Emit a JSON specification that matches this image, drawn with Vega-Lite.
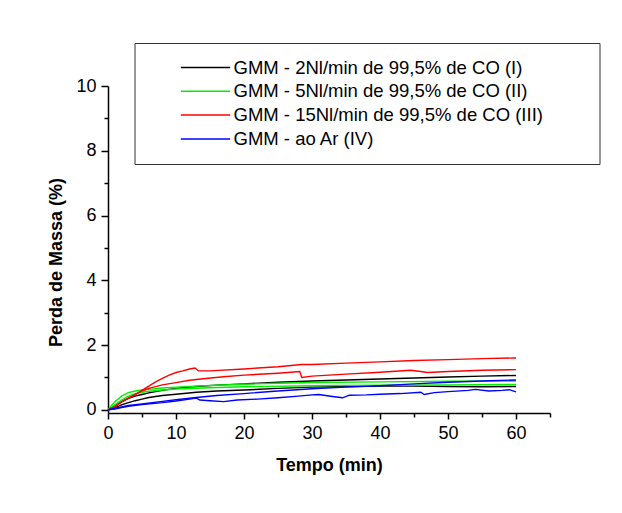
{
  "$schema": "https://vega.github.io/schema/vega-lite/v6.json",
  "width": 442,
  "height": 327,
  "autosize": "none",
  "padding": {"left": 108, "top": 86, "right": 72, "bottom": 100},
  "background": "white",
  "config": {
    "font": "Liberation Sans",
    "view": {"stroke": null}
  },
  "datasets": {
    "curvas": [
      {"serie": "GMM - 2Nl/min de 99,5% de CO  (I)", "run": 1, "t": 0, "v": 0},
      {"serie": "GMM - 2Nl/min de 99,5% de CO  (I)", "run": 1, "t": 1, "v": 0.1},
      {"serie": "GMM - 2Nl/min de 99,5% de CO  (I)", "run": 1, "t": 2, "v": 0.25},
      {"serie": "GMM - 2Nl/min de 99,5% de CO  (I)", "run": 1, "t": 3, "v": 0.35},
      {"serie": "GMM - 2Nl/min de 99,5% de CO  (I)", "run": 1, "t": 4, "v": 0.42},
      {"serie": "GMM - 2Nl/min de 99,5% de CO  (I)", "run": 1, "t": 5, "v": 0.47},
      {"serie": "GMM - 2Nl/min de 99,5% de CO  (I)", "run": 1, "t": 6, "v": 0.52},
      {"serie": "GMM - 2Nl/min de 99,5% de CO  (I)", "run": 1, "t": 8, "v": 0.6},
      {"serie": "GMM - 2Nl/min de 99,5% de CO  (I)", "run": 1, "t": 10, "v": 0.66},
      {"serie": "GMM - 2Nl/min de 99,5% de CO  (I)", "run": 1, "t": 13, "v": 0.72},
      {"serie": "GMM - 2Nl/min de 99,5% de CO  (I)", "run": 1, "t": 16, "v": 0.76},
      {"serie": "GMM - 2Nl/min de 99,5% de CO  (I)", "run": 1, "t": 20, "v": 0.8},
      {"serie": "GMM - 2Nl/min de 99,5% de CO  (I)", "run": 1, "t": 25, "v": 0.85},
      {"serie": "GMM - 2Nl/min de 99,5% de CO  (I)", "run": 1, "t": 30, "v": 0.89},
      {"serie": "GMM - 2Nl/min de 99,5% de CO  (I)", "run": 1, "t": 35, "v": 0.92},
      {"serie": "GMM - 2Nl/min de 99,5% de CO  (I)", "run": 1, "t": 40, "v": 0.95},
      {"serie": "GMM - 2Nl/min de 99,5% de CO  (I)", "run": 1, "t": 45, "v": 0.98},
      {"serie": "GMM - 2Nl/min de 99,5% de CO  (I)", "run": 1, "t": 50, "v": 1.01},
      {"serie": "GMM - 2Nl/min de 99,5% de CO  (I)", "run": 1, "t": 55, "v": 1.04},
      {"serie": "GMM - 2Nl/min de 99,5% de CO  (I)", "run": 1, "t": 60, "v": 1.06},
      {"serie": "GMM - 2Nl/min de 99,5% de CO  (I)", "run": 2, "t": 0, "v": 0},
      {"serie": "GMM - 2Nl/min de 99,5% de CO  (I)", "run": 2, "t": 1, "v": 0.06},
      {"serie": "GMM - 2Nl/min de 99,5% de CO  (I)", "run": 2, "t": 2, "v": 0.15},
      {"serie": "GMM - 2Nl/min de 99,5% de CO  (I)", "run": 2, "t": 3, "v": 0.22},
      {"serie": "GMM - 2Nl/min de 99,5% de CO  (I)", "run": 2, "t": 4, "v": 0.28},
      {"serie": "GMM - 2Nl/min de 99,5% de CO  (I)", "run": 2, "t": 5, "v": 0.33},
      {"serie": "GMM - 2Nl/min de 99,5% de CO  (I)", "run": 2, "t": 6, "v": 0.38},
      {"serie": "GMM - 2Nl/min de 99,5% de CO  (I)", "run": 2, "t": 8, "v": 0.44},
      {"serie": "GMM - 2Nl/min de 99,5% de CO  (I)", "run": 2, "t": 10, "v": 0.48},
      {"serie": "GMM - 2Nl/min de 99,5% de CO  (I)", "run": 2, "t": 13, "v": 0.54},
      {"serie": "GMM - 2Nl/min de 99,5% de CO  (I)", "run": 2, "t": 16, "v": 0.58},
      {"serie": "GMM - 2Nl/min de 99,5% de CO  (I)", "run": 2, "t": 20, "v": 0.61},
      {"serie": "GMM - 2Nl/min de 99,5% de CO  (I)", "run": 2, "t": 25, "v": 0.66},
      {"serie": "GMM - 2Nl/min de 99,5% de CO  (I)", "run": 2, "t": 30, "v": 0.7},
      {"serie": "GMM - 2Nl/min de 99,5% de CO  (I)", "run": 2, "t": 35, "v": 0.72},
      {"serie": "GMM - 2Nl/min de 99,5% de CO  (I)", "run": 2, "t": 40, "v": 0.73},
      {"serie": "GMM - 2Nl/min de 99,5% de CO  (I)", "run": 2, "t": 45, "v": 0.73},
      {"serie": "GMM - 2Nl/min de 99,5% de CO  (I)", "run": 2, "t": 50, "v": 0.72},
      {"serie": "GMM - 2Nl/min de 99,5% de CO  (I)", "run": 2, "t": 55, "v": 0.71},
      {"serie": "GMM - 2Nl/min de 99,5% de CO  (I)", "run": 2, "t": 60, "v": 0.72},
      {"serie": "GMM - 5Nl/min de 99,5% de CO  (II)", "run": 1, "t": 0, "v": 0},
      {"serie": "GMM - 5Nl/min de 99,5% de CO  (II)", "run": 1, "t": 1, "v": 0.25},
      {"serie": "GMM - 5Nl/min de 99,5% de CO  (II)", "run": 1, "t": 2, "v": 0.42},
      {"serie": "GMM - 5Nl/min de 99,5% de CO  (II)", "run": 1, "t": 3, "v": 0.53},
      {"serie": "GMM - 5Nl/min de 99,5% de CO  (II)", "run": 1, "t": 4, "v": 0.58},
      {"serie": "GMM - 5Nl/min de 99,5% de CO  (II)", "run": 1, "t": 5, "v": 0.61},
      {"serie": "GMM - 5Nl/min de 99,5% de CO  (II)", "run": 1, "t": 6, "v": 0.63},
      {"serie": "GMM - 5Nl/min de 99,5% de CO  (II)", "run": 1, "t": 8, "v": 0.67},
      {"serie": "GMM - 5Nl/min de 99,5% de CO  (II)", "run": 1, "t": 10, "v": 0.7},
      {"serie": "GMM - 5Nl/min de 99,5% de CO  (II)", "run": 1, "t": 15, "v": 0.75},
      {"serie": "GMM - 5Nl/min de 99,5% de CO  (II)", "run": 1, "t": 20, "v": 0.79},
      {"serie": "GMM - 5Nl/min de 99,5% de CO  (II)", "run": 1, "t": 25, "v": 0.82},
      {"serie": "GMM - 5Nl/min de 99,5% de CO  (II)", "run": 1, "t": 30, "v": 0.84},
      {"serie": "GMM - 5Nl/min de 99,5% de CO  (II)", "run": 1, "t": 40, "v": 0.86},
      {"serie": "GMM - 5Nl/min de 99,5% de CO  (II)", "run": 1, "t": 50, "v": 0.88},
      {"serie": "GMM - 5Nl/min de 99,5% de CO  (II)", "run": 1, "t": 60, "v": 0.89},
      {"serie": "GMM - 5Nl/min de 99,5% de CO  (II)", "run": 2, "t": 0, "v": 0},
      {"serie": "GMM - 5Nl/min de 99,5% de CO  (II)", "run": 2, "t": 1, "v": 0.15},
      {"serie": "GMM - 5Nl/min de 99,5% de CO  (II)", "run": 2, "t": 2, "v": 0.3},
      {"serie": "GMM - 5Nl/min de 99,5% de CO  (II)", "run": 2, "t": 3, "v": 0.42},
      {"serie": "GMM - 5Nl/min de 99,5% de CO  (II)", "run": 2, "t": 4, "v": 0.5},
      {"serie": "GMM - 5Nl/min de 99,5% de CO  (II)", "run": 2, "t": 5, "v": 0.54},
      {"serie": "GMM - 5Nl/min de 99,5% de CO  (II)", "run": 2, "t": 6, "v": 0.57},
      {"serie": "GMM - 5Nl/min de 99,5% de CO  (II)", "run": 2, "t": 8, "v": 0.61},
      {"serie": "GMM - 5Nl/min de 99,5% de CO  (II)", "run": 2, "t": 10, "v": 0.64},
      {"serie": "GMM - 5Nl/min de 99,5% de CO  (II)", "run": 2, "t": 15, "v": 0.68},
      {"serie": "GMM - 5Nl/min de 99,5% de CO  (II)", "run": 2, "t": 20, "v": 0.71},
      {"serie": "GMM - 5Nl/min de 99,5% de CO  (II)", "run": 2, "t": 30, "v": 0.74},
      {"serie": "GMM - 5Nl/min de 99,5% de CO  (II)", "run": 2, "t": 40, "v": 0.76},
      {"serie": "GMM - 5Nl/min de 99,5% de CO  (II)", "run": 2, "t": 50, "v": 0.77},
      {"serie": "GMM - 5Nl/min de 99,5% de CO  (II)", "run": 2, "t": 60, "v": 0.78},
      {"serie": "GMM - 15Nl/min de 99,5% de CO (III)", "run": 1, "t": 0, "v": 0},
      {"serie": "GMM - 15Nl/min de 99,5% de CO (III)", "run": 1, "t": 1, "v": 0.1},
      {"serie": "GMM - 15Nl/min de 99,5% de CO (III)", "run": 1, "t": 2, "v": 0.24},
      {"serie": "GMM - 15Nl/min de 99,5% de CO (III)", "run": 1, "t": 3, "v": 0.36},
      {"serie": "GMM - 15Nl/min de 99,5% de CO (III)", "run": 1, "t": 4, "v": 0.47},
      {"serie": "GMM - 15Nl/min de 99,5% de CO (III)", "run": 1, "t": 5, "v": 0.6},
      {"serie": "GMM - 15Nl/min de 99,5% de CO (III)", "run": 1, "t": 6, "v": 0.73},
      {"serie": "GMM - 15Nl/min de 99,5% de CO (III)", "run": 1, "t": 7, "v": 0.86},
      {"serie": "GMM - 15Nl/min de 99,5% de CO (III)", "run": 1, "t": 8, "v": 0.97},
      {"serie": "GMM - 15Nl/min de 99,5% de CO (III)", "run": 1, "t": 9, "v": 1.07},
      {"serie": "GMM - 15Nl/min de 99,5% de CO (III)", "run": 1, "t": 10, "v": 1.15},
      {"serie": "GMM - 15Nl/min de 99,5% de CO (III)", "run": 1, "t": 11, "v": 1.2},
      {"serie": "GMM - 15Nl/min de 99,5% de CO (III)", "run": 1, "t": 12, "v": 1.26},
      {"serie": "GMM - 15Nl/min de 99,5% de CO (III)", "run": 1, "t": 12.8, "v": 1.29},
      {"serie": "GMM - 15Nl/min de 99,5% de CO (III)", "run": 1, "t": 13.3, "v": 1.2},
      {"serie": "GMM - 15Nl/min de 99,5% de CO (III)", "run": 1, "t": 15, "v": 1.2},
      {"serie": "GMM - 15Nl/min de 99,5% de CO (III)", "run": 1, "t": 20, "v": 1.26},
      {"serie": "GMM - 15Nl/min de 99,5% de CO (III)", "run": 1, "t": 25, "v": 1.33},
      {"serie": "GMM - 15Nl/min de 99,5% de CO (III)", "run": 1, "t": 28.5, "v": 1.4},
      {"serie": "GMM - 15Nl/min de 99,5% de CO (III)", "run": 1, "t": 30, "v": 1.4},
      {"serie": "GMM - 15Nl/min de 99,5% de CO (III)", "run": 1, "t": 35, "v": 1.44},
      {"serie": "GMM - 15Nl/min de 99,5% de CO (III)", "run": 1, "t": 40, "v": 1.48},
      {"serie": "GMM - 15Nl/min de 99,5% de CO (III)", "run": 1, "t": 45, "v": 1.52},
      {"serie": "GMM - 15Nl/min de 99,5% de CO (III)", "run": 1, "t": 50, "v": 1.55},
      {"serie": "GMM - 15Nl/min de 99,5% de CO (III)", "run": 1, "t": 55, "v": 1.58},
      {"serie": "GMM - 15Nl/min de 99,5% de CO (III)", "run": 1, "t": 60, "v": 1.6},
      {"serie": "GMM - 15Nl/min de 99,5% de CO (III)", "run": 2, "t": 0, "v": 0},
      {"serie": "GMM - 15Nl/min de 99,5% de CO (III)", "run": 2, "t": 1, "v": 0.1},
      {"serie": "GMM - 15Nl/min de 99,5% de CO (III)", "run": 2, "t": 2, "v": 0.24},
      {"serie": "GMM - 15Nl/min de 99,5% de CO (III)", "run": 2, "t": 3, "v": 0.36},
      {"serie": "GMM - 15Nl/min de 99,5% de CO (III)", "run": 2, "t": 4, "v": 0.47},
      {"serie": "GMM - 15Nl/min de 99,5% de CO (III)", "run": 2, "t": 5, "v": 0.58},
      {"serie": "GMM - 15Nl/min de 99,5% de CO (III)", "run": 2, "t": 6, "v": 0.66},
      {"serie": "GMM - 15Nl/min de 99,5% de CO (III)", "run": 2, "t": 8, "v": 0.77},
      {"serie": "GMM - 15Nl/min de 99,5% de CO (III)", "run": 2, "t": 10, "v": 0.84},
      {"serie": "GMM - 15Nl/min de 99,5% de CO (III)", "run": 2, "t": 12, "v": 0.91},
      {"serie": "GMM - 15Nl/min de 99,5% de CO (III)", "run": 2, "t": 14, "v": 0.96},
      {"serie": "GMM - 15Nl/min de 99,5% de CO (III)", "run": 2, "t": 17, "v": 1.02},
      {"serie": "GMM - 15Nl/min de 99,5% de CO (III)", "run": 2, "t": 20, "v": 1.07},
      {"serie": "GMM - 15Nl/min de 99,5% de CO (III)", "run": 2, "t": 25, "v": 1.13},
      {"serie": "GMM - 15Nl/min de 99,5% de CO (III)", "run": 2, "t": 28.2, "v": 1.18},
      {"serie": "GMM - 15Nl/min de 99,5% de CO (III)", "run": 2, "t": 28.5, "v": 1.0},
      {"serie": "GMM - 15Nl/min de 99,5% de CO (III)", "run": 2, "t": 30, "v": 1.04},
      {"serie": "GMM - 15Nl/min de 99,5% de CO (III)", "run": 2, "t": 35, "v": 1.1},
      {"serie": "GMM - 15Nl/min de 99,5% de CO (III)", "run": 2, "t": 40, "v": 1.16},
      {"serie": "GMM - 15Nl/min de 99,5% de CO (III)", "run": 2, "t": 44.5, "v": 1.22},
      {"serie": "GMM - 15Nl/min de 99,5% de CO (III)", "run": 2, "t": 46, "v": 1.18},
      {"serie": "GMM - 15Nl/min de 99,5% de CO (III)", "run": 2, "t": 47, "v": 1.15},
      {"serie": "GMM - 15Nl/min de 99,5% de CO (III)", "run": 2, "t": 50, "v": 1.18},
      {"serie": "GMM - 15Nl/min de 99,5% de CO (III)", "run": 2, "t": 55, "v": 1.22},
      {"serie": "GMM - 15Nl/min de 99,5% de CO (III)", "run": 2, "t": 60, "v": 1.24},
      {"serie": "GMM - ao Ar (IV)", "run": 1, "t": 0, "v": 0},
      {"serie": "GMM - ao Ar (IV)", "run": 1, "t": 1, "v": 0.04},
      {"serie": "GMM - ao Ar (IV)", "run": 1, "t": 2, "v": 0.09},
      {"serie": "GMM - ao Ar (IV)", "run": 1, "t": 3, "v": 0.13},
      {"serie": "GMM - ao Ar (IV)", "run": 1, "t": 5, "v": 0.18},
      {"serie": "GMM - ao Ar (IV)", "run": 1, "t": 8, "v": 0.26},
      {"serie": "GMM - ao Ar (IV)", "run": 1, "t": 10, "v": 0.31},
      {"serie": "GMM - ao Ar (IV)", "run": 1, "t": 13, "v": 0.38},
      {"serie": "GMM - ao Ar (IV)", "run": 1, "t": 16, "v": 0.44},
      {"serie": "GMM - ao Ar (IV)", "run": 1, "t": 20, "v": 0.5},
      {"serie": "GMM - ao Ar (IV)", "run": 1, "t": 25, "v": 0.58},
      {"serie": "GMM - ao Ar (IV)", "run": 1, "t": 30, "v": 0.65},
      {"serie": "GMM - ao Ar (IV)", "run": 1, "t": 35, "v": 0.7},
      {"serie": "GMM - ao Ar (IV)", "run": 1, "t": 40, "v": 0.74},
      {"serie": "GMM - ao Ar (IV)", "run": 1, "t": 45, "v": 0.8},
      {"serie": "GMM - ao Ar (IV)", "run": 1, "t": 50, "v": 0.85},
      {"serie": "GMM - ao Ar (IV)", "run": 1, "t": 55, "v": 0.89},
      {"serie": "GMM - ao Ar (IV)", "run": 1, "t": 60, "v": 0.92},
      {"serie": "GMM - ao Ar (IV)", "run": 2, "t": 0, "v": 0},
      {"serie": "GMM - ao Ar (IV)", "run": 2, "t": 1, "v": 0.02},
      {"serie": "GMM - ao Ar (IV)", "run": 2, "t": 2, "v": 0.07},
      {"serie": "GMM - ao Ar (IV)", "run": 2, "t": 3, "v": 0.11},
      {"serie": "GMM - ao Ar (IV)", "run": 2, "t": 5, "v": 0.16},
      {"serie": "GMM - ao Ar (IV)", "run": 2, "t": 8, "v": 0.22},
      {"serie": "GMM - ao Ar (IV)", "run": 2, "t": 10, "v": 0.27},
      {"serie": "GMM - ao Ar (IV)", "run": 2, "t": 12, "v": 0.33},
      {"serie": "GMM - ao Ar (IV)", "run": 2, "t": 13, "v": 0.36},
      {"serie": "GMM - ao Ar (IV)", "run": 2, "t": 13.5, "v": 0.3},
      {"serie": "GMM - ao Ar (IV)", "run": 2, "t": 15, "v": 0.28},
      {"serie": "GMM - ao Ar (IV)", "run": 2, "t": 17, "v": 0.25},
      {"serie": "GMM - ao Ar (IV)", "run": 2, "t": 19, "v": 0.3},
      {"serie": "GMM - ao Ar (IV)", "run": 2, "t": 22, "v": 0.33},
      {"serie": "GMM - ao Ar (IV)", "run": 2, "t": 25, "v": 0.37},
      {"serie": "GMM - ao Ar (IV)", "run": 2, "t": 28, "v": 0.42},
      {"serie": "GMM - ao Ar (IV)", "run": 2, "t": 30, "v": 0.46},
      {"serie": "GMM - ao Ar (IV)", "run": 2, "t": 31, "v": 0.47},
      {"serie": "GMM - ao Ar (IV)", "run": 2, "t": 33, "v": 0.41},
      {"serie": "GMM - ao Ar (IV)", "run": 2, "t": 34.5, "v": 0.37},
      {"serie": "GMM - ao Ar (IV)", "run": 2, "t": 35.5, "v": 0.45},
      {"serie": "GMM - ao Ar (IV)", "run": 2, "t": 38, "v": 0.46},
      {"serie": "GMM - ao Ar (IV)", "run": 2, "t": 40, "v": 0.48},
      {"serie": "GMM - ao Ar (IV)", "run": 2, "t": 43, "v": 0.5},
      {"serie": "GMM - ao Ar (IV)", "run": 2, "t": 46, "v": 0.54},
      {"serie": "GMM - ao Ar (IV)", "run": 2, "t": 46.5, "v": 0.47},
      {"serie": "GMM - ao Ar (IV)", "run": 2, "t": 48, "v": 0.53},
      {"serie": "GMM - ao Ar (IV)", "run": 2, "t": 50, "v": 0.56},
      {"serie": "GMM - ao Ar (IV)", "run": 2, "t": 53, "v": 0.6},
      {"serie": "GMM - ao Ar (IV)", "run": 2, "t": 54, "v": 0.63},
      {"serie": "GMM - ao Ar (IV)", "run": 2, "t": 56, "v": 0.58},
      {"serie": "GMM - ao Ar (IV)", "run": 2, "t": 58, "v": 0.6},
      {"serie": "GMM - ao Ar (IV)", "run": 2, "t": 59, "v": 0.62},
      {"serie": "GMM - ao Ar (IV)", "run": 2, "t": 60, "v": 0.55}
    ]
  },
  "data": {"name": "curvas"},
  "mark": {"type": "line", "strokeWidth": 1.4, "clip": false},
  "encoding": {
    "x": {
      "field": "t",
      "type": "quantitative",
      "scale": {"domain": [0, 65], "nice": false, "zero": false},
      "axis": {
        "title": "Tempo (min)",
        "values": [0, 5, 10, 15, 20, 25, 30, 35, 40, 45, 50, 55, 60, 65],
        "labelExpr": "datum.value % 10 === 0 ? datum.label : ''",
        "grid": false,
        "domainColor": "black",
        "domainWidth": 1.5,
        "tickColor": "black",
        "tickWidth": 1.5,
        "tickSize": {"condition": {"test": "datum.value % 10 === 0", "value": 6}, "value": 4},
        "labelColor": "black",
        "labelFontSize": 18,
        "labelPadding": 5,
        "labelFlush": false,
        "labelOverlap": false,
        "titleColor": "black",
        "titleFontSize": 18,
        "titleFontWeight": "bold",
        "titlePadding": 14
      }
    },
    "y": {
      "field": "v",
      "type": "quantitative",
      "scale": {"domain": [-0.1, 10], "nice": false, "zero": false},
      "axis": {
        "title": "Perda de Massa (%)",
        "values": [0, 1, 2, 3, 4, 5, 6, 7, 8, 9, 10],
        "labelExpr": "datum.value % 2 === 0 ? datum.label : ''",
        "grid": false,
        "domainColor": "black",
        "domainWidth": 1.5,
        "tickColor": "black",
        "tickWidth": 1.5,
        "tickSize": {"condition": {"test": "datum.value % 2 === 0", "value": 7}, "value": 4},
        "labelColor": "black",
        "labelFontSize": 18,
        "labelPadding": 5,
        "labelFlush": false,
        "labelOverlap": false,
        "titleColor": "black",
        "titleFontSize": 18,
        "titleFontWeight": "bold",
        "titlePadding": 10,
        "titleY": 176
      }
    },
    "color": {
      "field": "serie",
      "type": "nominal",
      "scale": {
        "domain": [
          "GMM - 2Nl/min de 99,5% de CO  (I)",
          "GMM - 5Nl/min de 99,5% de CO  (II)",
          "GMM - 15Nl/min de 99,5% de CO (III)",
          "GMM - ao Ar (IV)"
        ],
        "range": ["#000000", "#00ee00", "#ff0000", "#0000ff"]
      },
      "legend": {
        "title": "\u00a0",
        "titleOrient": "right",
        "titlePadding": 42,
        "titleFontSize": 17,
        "orient": "none",
        "legendX": 26.5,
        "legendY": -43,
        "padding": 15,
        "strokeColor": "#333333",
        "fillColor": "white",
        "symbolType": "M-2.9,0H2.9",
        "symbolSize": 289,
        "symbolStrokeWidth": 1.5,
        "symbolOffset": 46.5,
        "labelOffset": 18.5,
        "labelFontSize": 18.5,
        "labelColor": "black",
        "labelLimit": 600,
        "rowPadding": 4.8
      }
    },
    "detail": {"field": "run", "type": "nominal"}
  }
}
